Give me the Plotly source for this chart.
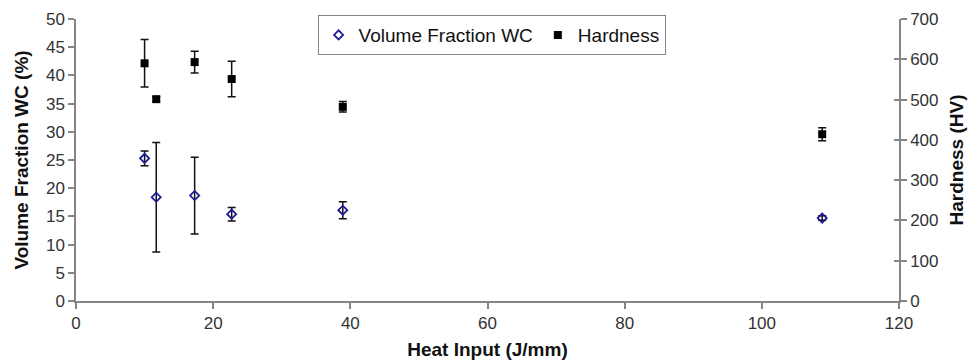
import plotly.graph_objects as go

# Heat input (J/mm) for each weld condition
heat_input = [10.0, 11.7, 17.3, 22.7, 38.9, 108.8]

# Volume fraction of WC (%) with standard deviation
vol_fraction = [25.3, 18.4, 18.7, 15.4, 16.1, 14.7]
vol_err = [1.3, 9.7, 6.8, 1.2, 1.5, 0.4]

# Hardness (HV) with standard deviation
hardness = [590, 501, 593, 551, 482, 414]
hard_err = [59, 6, 27, 44, 13, 16]

x_ticks = [0, 20, 40, 60, 80, 100, 120]
y1_ticks = list(range(0, 51, 5))
y2_ticks = list(range(0, 701, 100))

FONT = "Liberation Sans, Arial, sans-serif"
AXIS_GREY = "#858585"
TICK_COLOR = "#333333"
TITLE_FONT = dict(family=FONT, size=19, color="#111111")

fig = go.Figure()

fig.add_trace(go.Scatter(
    x=heat_input, y=vol_fraction, mode="markers", name="Volume Fraction WC",
    marker=dict(symbol="diamond-open", size=7, color="#1c1c96",
                line=dict(width=1.8, color="#1c1c96")),
    error_y=dict(type="data", array=vol_err, visible=True,
                 color="#111111", thickness=1.5, width=4),
    yaxis="y",
))

fig.add_trace(go.Scatter(
    x=heat_input, y=hardness, mode="markers", name="Hardness",
    marker=dict(symbol="square", size=8, color="black"),
    error_y=dict(type="data", array=hard_err, visible=True,
                 color="#111111", thickness=1.5, width=4),
    yaxis="y2",
))

axis_common = dict(
    showgrid=False, zeroline=False, showline=True, automargin=False,
    linecolor=AXIS_GREY, linewidth=1.5,
    ticks="outside", ticklen=6, tickwidth=1.5, tickcolor=AXIS_GREY,
    tickfont=dict(family=FONT, size=17, color=TICK_COLOR),
)

fig.update_layout(
    width=969, height=360,
    margin=dict(l=76, r=70, t=19, b=59),
    paper_bgcolor="white", plot_bgcolor="white",
    font=dict(family=FONT, color="#111111"),
    xaxis=dict(
        range=[0, 120], tickvals=x_ticks,
        title=dict(text="<b>Heat Input (J/mm)</b>", font=TITLE_FONT, standoff=14),
        **axis_common,
    ),
    yaxis=dict(
        range=[0, 50], tickvals=y1_ticks,
        title=dict(text="<b>Volume Fraction WC (%)</b>", font=TITLE_FONT, standoff=12),
        **axis_common,
    ),
    yaxis2=dict(
        range=[0, 700], tickvals=y2_ticks, overlaying="y", side="right",
        title=dict(text="<b>Hardness (HV)</b>", font=TITLE_FONT, standoff=12),
        **axis_common,
    ),
    # inner half of the crossing ticks on the right-hand axis
    yaxis3=dict(
        range=[0, 700], tickvals=y2_ticks, overlaying="y", side="right",
        showgrid=False, zeroline=False, showline=False, showticklabels=False,
        automargin=False,
        ticks="inside", ticklen=5, tickwidth=1.5, tickcolor=AXIS_GREY,
    ),
    legend=dict(
        orientation="h", x=0.505, y=1.014, xanchor="center", yanchor="top",
        bgcolor="white", bordercolor=AXIS_GREY, borderwidth=1,
        font=dict(family=FONT, size=19, color="#111111"),
        itemwidth=30, tracegroupgap=0,
    ),
    showlegend=True,
)

# invisible trace to activate the tick-only overlay axis
fig.add_trace(go.Scatter(x=[None], y=[None], yaxis="y3", showlegend=False,
                         hoverinfo="skip"))

fig.write_html("out.html")
